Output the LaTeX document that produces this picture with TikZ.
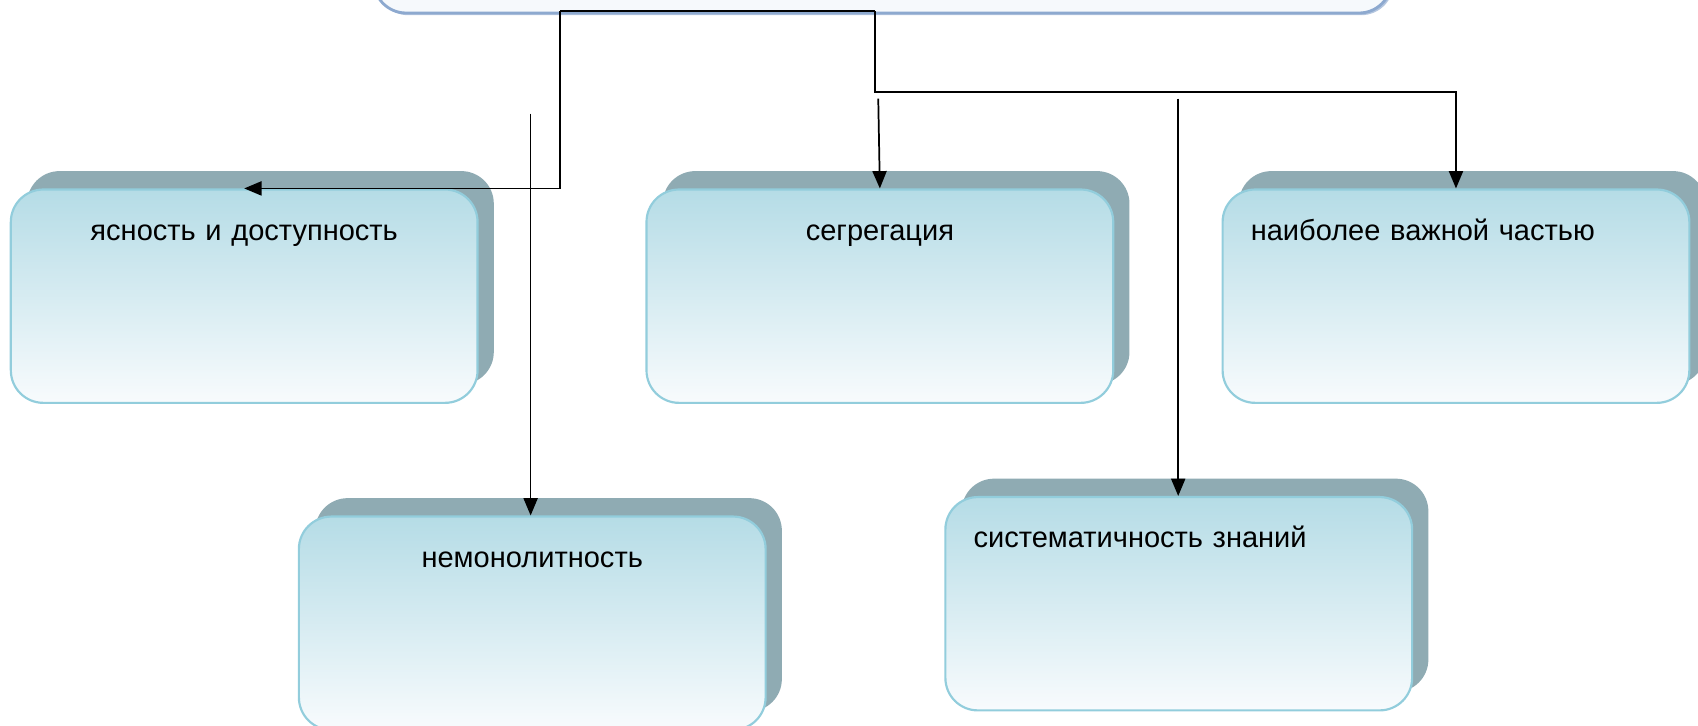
\documentclass[tikz,border=0pt]{standalone}
\usepackage{fontspec}
\setmainfont{Liberation Sans}
\usetikzlibrary{arrows.meta,shadows,calc}
\definecolor{shadowcol}{HTML}{8FABB3}
\definecolor{boxtop}{HTML}{B5DCE6}
\definecolor{boxbot}{HTML}{F8FBFD}
\definecolor{boxline}{HTML}{92CDDC}
\definecolor{topline}{HTML}{8DA9CF}
\definecolor{topshadow}{HTML}{B4C6DF}
\definecolor{topfill}{HTML}{F6F9FC}
\tikzset{
  card/.style={draw=boxline, line width=1pt, rounded corners=15pt,
    top color=boxtop, bottom color=boxbot, inner ysep=0pt,
    text height=23.5pt, text depth=75pt,
    font=\fontsize{13.4pt}{16pt}\selectfont,
    drop shadow={shadow xshift=7.5pt, shadow yshift=8.5pt, fill=shadowcol, opacity=1}},
  cardc/.style={card, inner xsep=0pt, text width=215.5pt, align=center},
  cardl/.style={card, inner xsep=13pt, text width=189.5pt, align=left},
  conn/.style={draw=black, line width=0.8pt},
  arr/.style={conn, -{Triangle[length=8pt,width=6.5pt]}}
}
\begin{document}
\begin{tikzpicture}[x=0.5pt,y=-0.5pt]
\useasboundingbox (0,0) rectangle (1568,670);
% top box (only its lower part is visible)
\fill[topshadow, rounded corners=15pt] (347,-120) rectangle (1287,14);
\node[draw=topline, line width=1.3pt, fill=topfill, rounded corners=15pt,
  minimum width=470pt, minimum height=65pt, inner sep=0pt] (top) at (815,-53) {};
% boxes
\node[cardc] (b1) at (225.5,273.5) {ясность и доступность};
\node[cardc] (b2) at (812.5,273.5) {сегрегация};
\node[cardl] (b3) at (1344.5,273.5) {наиболее важной частью};
\node[cardc] (b4) at (491.5,575.5) {немонолитность};
\node[cardl] (b5) at (1088.5,557.5) {систематичность знаний};
% connector junctions
\coordinate (j1) at (517,10);
\coordinate (j2) at (808,10);
\coordinate (j3) at (808,85);
\coordinate (s2) at (811,91);
\coordinate (s4) at (490,105);
\coordinate (s5) at (1088,91);
% connectors
\draw[conn] (j2) -- (j1);
\draw[arr] (j1) -- (j1 |- b1.north) -- (b1.north);
\draw[arr] (j2) -- (j3) -| (b3.north);
\draw[arr] (s2) -- (b2.north);
\draw[arr] (s4) -- (s4 |- b4.north);
\draw[arr] (s5) -- (s5 |- b5.north);
\end{tikzpicture}
\end{document}
